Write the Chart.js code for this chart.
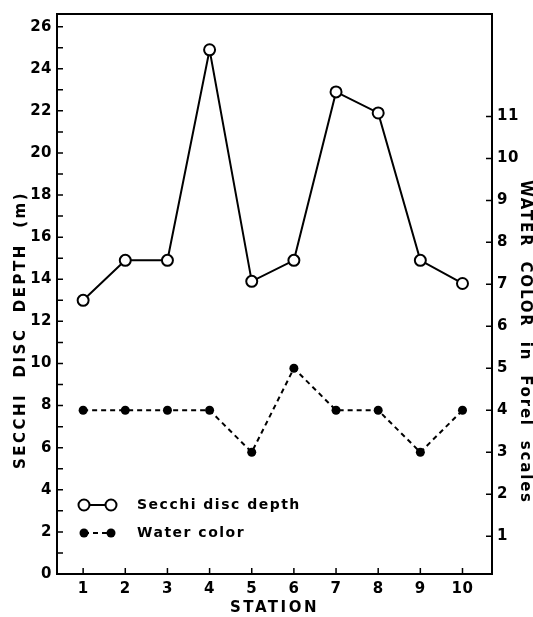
<!DOCTYPE html>
<html><head><meta charset="utf-8">
<script src="https://cdn.jsdelivr.net/npm/chart.js@4/dist/chart.umd.min.js"></script>
<style>html,body{margin:0;padding:0;background:#fff}#wrap{width:533px;height:617px}</style>
</head><body><div id="wrap"><canvas id="c" width="533" height="617"></canvas></div>
<script>
const stations = [1, 2, 3, 4, 5, 6, 7, 8, 9, 10];
const secchiDepth = [13, 14.9, 14.9, 24.9, 13.9, 14.9, 22.9, 21.9, 14.9, 13.8];
const waterColor = [4, 4, 4, 4, 3, 5, 4, 4, 3, 4];
const depthTicks = [0,1,2,3,4,5,6,7,8,9,10,11,12,13,14,15,16,17,18,19,20,21,22,23,24,25,26];
const colorTicks = [1, 2, 3, 4, 5, 6, 7, 8, 9, 10, 11];
const seriesNames = ['Secchi disc depth', 'Water color'];
const titleX = 'STATION';
const titleLeft = 'SECCHI  DISC  DEPTH  (m)';
const titleRight = 'WATER  COLOR  in  Forel  scales';

const FONT = "'DejaVu Sans', sans-serif";

const framePlugin = {
  id: 'frame',
  beforeDraw(chart) { chart.ctx.letterSpacing = '2.5px'; },
  beforeDatasetsDraw(chart) {
    const ctx = chart.ctx;
    const a = chart.chartArea;
    ctx.save();
    ctx.strokeStyle = '#000';
    ctx.lineWidth = 2;
    ctx.beginPath();
    ctx.moveTo(a.left - 1, a.top); ctx.lineTo(a.right + 1, a.top);
    ctx.stroke();
    ctx.lineWidth = 1.5;
    const L = 6;
    const sx = chart.scales.x, sl = chart.scales.y, sr = chart.scales.y2;
    ctx.beginPath();
    sx.ticks.forEach(t => { const p = sx.getPixelForValue(t.value); ctx.moveTo(p, a.bottom); ctx.lineTo(p, a.bottom - L); });
    sl.ticks.forEach(t => { const p = sl.getPixelForValue(t.value); ctx.moveTo(a.left, p); ctx.lineTo(a.left + L, p); });
    sr.ticks.forEach(t => { const p = sr.getPixelForValue(t.value); ctx.moveTo(a.right, p); ctx.lineTo(a.right - L, p); });
    ctx.stroke();
    ctx.restore();
    ctx.letterSpacing = '0.5px';
  },
  afterDraw(chart) {
    const ctx = chart.ctx;
    ctx.save();
    ctx.fillStyle = '#000';
    ctx.textAlign = 'center';
    ctx.textBaseline = 'middle';
    ctx.font = 'bold 15px ' + FONT;
    // vertical axis titles
    ctx.save();
    ctx.letterSpacing = '2.5px';
    ctx.translate(21, 330);
    ctx.rotate(-Math.PI / 2);
    ctx.fillText(titleLeft, 0, 0);
    ctx.restore();
    ctx.save();
    ctx.letterSpacing = '1.8px';
    ctx.translate(525, 342);
    ctx.rotate(Math.PI / 2);
    ctx.fillText(titleRight, 0, 0);
    ctx.restore();

    // legend
    ctx.textAlign = 'left';
    ctx.letterSpacing = '1.5px';
    ctx.font = 'bold 14px ' + FONT;
    ctx.strokeStyle = '#000';
    const rows = [
      {y: 505, text: seriesNames[0], open: true},
      {y: 533, text: seriesNames[1], open: false}
    ];
    rows.forEach(r => {
      const x1 = 84, x2 = 111;
      ctx.lineWidth = 2;
      ctx.setLineDash(r.open ? [] : [5, 4]);
      ctx.beginPath(); ctx.moveTo(x1, r.y); ctx.lineTo(x2, r.y); ctx.stroke();
      ctx.setLineDash([]);
      [x1, x2].forEach(x => {
        ctx.beginPath();
        if (r.open) {
          ctx.arc(x, r.y, 5.5, 0, Math.PI * 2);
          ctx.fillStyle = '#fff'; ctx.fill(); ctx.stroke();
        } else {
          ctx.arc(x, r.y, 4.5, 0, Math.PI * 2);
          ctx.fillStyle = '#000'; ctx.fill();
        }
      });
      ctx.fillStyle = '#000';
      ctx.fillText(r.text, 137, r.y);
    });
    ctx.restore();
  }
};

const tickFont = {family: FONT, size: 15, weight: 'bold'};
const titleFont = {family: FONT, size: 15, weight: 'bold', lineHeight: 1};

new Chart(document.getElementById('c'), {
  type: 'line',
  data: {
    datasets: [
      {
        label: seriesNames[0],
        data: stations.map((s, i) => ({x: s, y: secchiDepth[i]})),
        yAxisID: 'y',
        borderColor: '#000', borderWidth: 2,
        pointRadius: 5.5, pointBorderWidth: 2,
        pointBackgroundColor: '#fff', pointBorderColor: '#000',
        tension: 0, fill: false
      },
      {
        label: seriesNames[1],
        data: stations.map((s, i) => ({x: s, y: waterColor[i]})),
        yAxisID: 'y2',
        borderColor: '#000', borderWidth: 2, borderDash: [5, 4],
        pointRadius: 4.5, pointBorderWidth: 0,
        pointBackgroundColor: '#000', pointBorderColor: '#000',
        tension: 0, fill: false
      }
    ]
  },
  options: {
    responsive: false,
    animation: false,
    events: [],
    layout: {padding: {top: 10, left: 0, right: 0, bottom: 0}},
    plugins: {legend: {display: false}, tooltip: {enabled: false}},
    scales: {
      x: {
        type: 'linear', min: 0.38, max: 10.7,
        afterBuildTicks: s => { s.ticks = stations.map(v => ({value: v})); },
        afterFit: s => { s.height = 43; },
        grid: {display: false, drawTicks: false},
        border: {display: true, color: '#000', width: 2},
        ticks: {font: tickFont, color: '#000', padding: 6, autoSkip: false, maxRotation: 0, z: 1,
                callback: v => String(v)},
        title: {display: true, text: titleX, font: titleFont, color: '#000', padding: {top: 0, bottom: 1}}
      },
      y: {
        type: 'linear', position: 'left', min: 0, max: 26.6,
        afterBuildTicks: s => { s.ticks = depthTicks.map(v => ({value: v})); },
        afterFit: s => { s.width = 57; },
        grid: {display: false, drawTicks: false},
        border: {display: true, color: '#000', width: 2},
        ticks: {font: tickFont, color: '#000', padding: 5, autoSkip: false, z: 1,
                callback: v => (v % 2 === 0 ? String(v) : '')},
        title: {display: false, text: titleLeft}
      },
      y2: {
        type: 'linear', position: 'right', min: 0.1, max: 13.44,
        afterBuildTicks: s => { s.ticks = colorTicks.map(v => ({value: v})); },
        afterFit: s => { s.width = 41; },
        grid: {display: false, drawTicks: false},
        border: {display: true, color: '#000', width: 2},
        ticks: {font: tickFont, color: '#000', padding: 5, autoSkip: false, z: 1,
                callback: v => String(v)},
        title: {display: false, text: titleRight}
      }
    }
  },
  plugins: [framePlugin]
});
</script>
</body></html>
